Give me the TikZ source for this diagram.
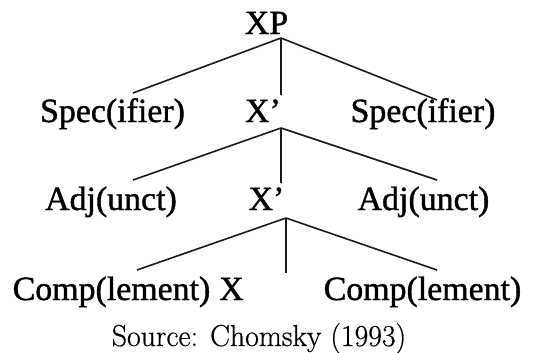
\documentclass[tikz,border=0pt]{standalone}
\usepackage{fontspec}
\setmainfont{Liberation Serif}[FakeBold=1.2]
\newfontfamily\capfont{Latin Modern Roman}[FakeStretch=0.98,FakeBold=0.6]
\begin{document}
\begin{tikzpicture}[x=1bp,y=-1bp,
  lab/.style={anchor=base,inner sep=0pt,font=\fontsize{34}{40}\selectfont},
  captxt/.style={anchor=base,inner sep=0pt,font=\capfont\fontsize{30.5}{36}\selectfont},
  edge/.style={line width=1.6bp,draw=black!90}]
\useasboundingbox (0,0) rectangle (539,352);
\node[lab] (xp) at (266.5,34) {XP};
\node[lab] (spec1) at (112.5,122) {Spec(ifier)};
\node[lab] (xb1) at (263,122) {X’};
\node[lab] (spec2) at (423,122) {Spec(ifier)};
\node[lab] (adj1) at (111,210) {Adj(unct)};
\node[lab] (xb2) at (266.5,210) {X’};
\node[lab] (adj2) at (423.5,210) {Adj(unct)};
\node[lab] (comp1) at (111.5,300) {Comp(lement)};
\node[lab] (x) at (231.5,300) {X};
\node[lab] (comp2) at (422.5,300) {Comp(lement)};
\node[captxt] (src) at (259,346) {Source: Chomsky (1993)};
% level 1
\draw[edge] ([shift={(14.5,4)}]xp.base) -- ([shift={(20.5,-29)}]spec1.base);
\draw[edge] ([shift={(14.5,4)}]xp.base) -- ([shift={(18,-27)}]xb1.base);
\draw[edge] ([shift={(14.5,4)}]xp.base) -- ([shift={(14,-22)}]spec2.base);
% level 2
\draw[edge] ([shift={(18,6)}]xb1.base) -- ([shift={(22,-30)}]adj1.base);
\draw[edge] ([shift={(18,6)}]xb1.base) -- ([shift={(14.5,-27)}]xb2.base);
\draw[edge] ([shift={(18,6)}]xb1.base) -- ([shift={(13.5,-30)}]adj2.base);
% level 3
\draw[edge] ([shift={(19.5,8)}]xb2.base) -- ([shift={(25.5,-30)}]comp1.base);
\draw[edge] ([shift={(19.5,8)}]xb2.base) -- ([shift={(54.5,-27)}]x.base);
\draw[edge] ([shift={(19.5,8)}]xb2.base) -- ([shift={(14.5,-30)}]comp2.base);
\end{tikzpicture}
\end{document}
